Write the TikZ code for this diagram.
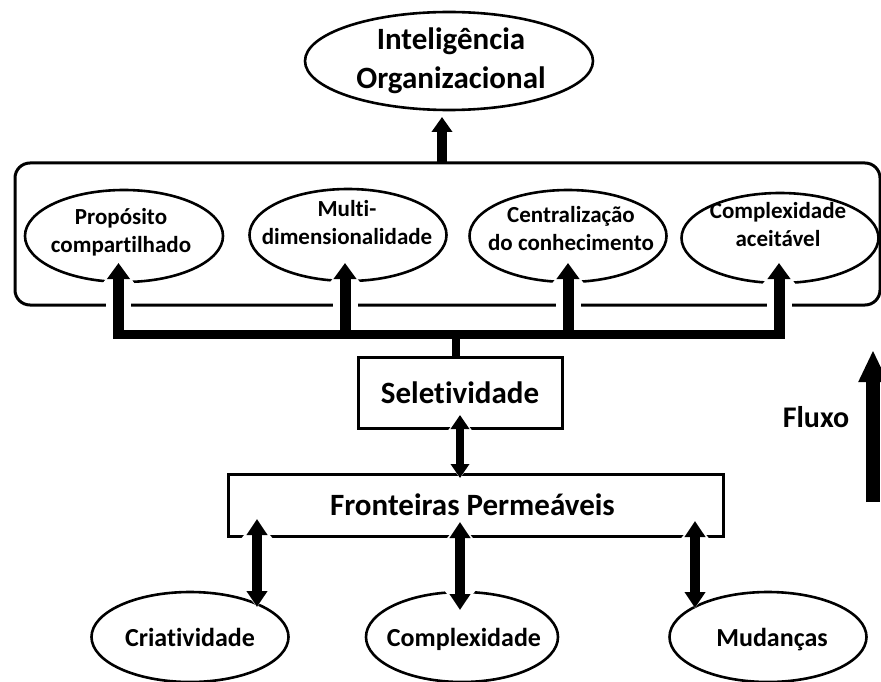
\documentclass[tikz,border=0pt]{standalone}
\usepackage{fontspec}
\setmainfont{Carlito}[Ligatures={NoCommon,NoContextual}]
\usetikzlibrary{arrows.meta,shapes.geometric}
\begin{document}
\begin{tikzpicture}[x=1pt,y=-1pt,
  ell/.style={draw, ellipse, line width=2.6pt, inner sep=0pt},
  rbox/.style={draw, rectangle, line width=3pt, inner sep=0pt},
  bigtxt/.style={font=\bfseries\fontsize{31}{39}\selectfont, align=center, inner sep=0pt},
  midtxt/.style={font=\bfseries\fontsize{26}{31}\selectfont, inner sep=0pt, anchor=base},
  smltxt/.style={font=\bfseries\fontsize{23}{28}\selectfont, align=center, inner sep=0pt},
  uparr/.style={line width=11pt, -{Triangle[width=22pt,length=16pt]},
    preaction={draw=white, line width=25pt, -{Triangle[width=36pt,length=24pt]}}},
  toparr/.style={line width=10pt, -{Triangle[width=20pt,length=15pt]}},
  dblarr/.style={line width=10pt, {Triangle[width=20pt,length=16pt]}-{Triangle[width=20pt,length=16pt]},
    preaction={draw=white, line width=24pt, {Triangle[width=34pt,length=22pt]}-{Triangle[width=34pt,length=22pt]}}},
  thinarr/.style={line width=8pt, {Triangle[width=18pt,length=14pt]}-{Triangle[width=18pt,length=14pt]},
    preaction={draw=white, line width=20pt, {Triangle[width=30pt,length=20pt]}-{Triangle[width=30pt,length=20pt]}}},
  flxarr/.style={line width=14pt, -{Triangle[width=27pt,length=32pt]}},
  busline/.style={line width=9pt, shorten <=-5.5pt, shorten >=-6pt}
]
\useasboundingbox (0,0) rectangle (881,682);

% top ellipse
\node[ell, minimum width=288pt, minimum height=98pt] (io) at (449,61) {};
\node[bigtxt] (iot) at (451,61) {Inteligência\\Organizacional};

% container
\node[draw, rectangle, rounded corners=15pt, line width=3pt, minimum width=865pt, minimum height=142pt, inner sep=0pt] (cont) at (447.5,234) {};

% inner ellipses
\node[ell, minimum width=198pt, minimum height=92pt] (p1) at (124,236) {};
\node[smltxt] (p1t) at (121,232) {Propósito\\compartilhado};
\node[ell, minimum width=197pt, minimum height=92pt] (p2) at (348,235) {};
\node[smltxt] (p2t) at (347,223) {Multi-\\dimensionalidade};
\node[ell, minimum width=197pt, minimum height=92pt] (p3) at (568,236) {};
\node[smltxt] (p3t) at (571,229) {Centralização\\do conhecimento};
\node[ell, minimum width=197pt, minimum height=90pt] (p4) at (780,238) {};
\node[smltxt] (p4t) at (778,225) {Complexidade\\aceitável};

% seletividade and fronteiras
\node[rbox, minimum width=204pt, minimum height=71pt, bigtxt] (sel) at (460,392.5) {Seletividade};
\node[rbox, minimum width=495pt, minimum height=62pt] (fr) at (475.5,505) {};
\node[bigtxt] (frt) at (472.5,505) {Fronteiras Permeáveis};

% bottom ellipses
\node[ell, minimum width=197pt, minimum height=90pt] (cr) at (190,637) {};
\node[midtxt] (crt) at (190,646) {Criatividade};
\node[ell, minimum width=192pt, minimum height=90pt] (co) at (462,637) {};
\node[midtxt] (cot) at (464,646) {Complexidade};
\node[ell, minimum width=197pt, minimum height=90pt] (mu) at (768,637) {};
\node[midtxt] (mut) at (772,646) {Mudanças};

% Fluxo
\node[font=\bfseries\fontsize{30}{36}\selectfont, inner sep=0pt] (fluxo) at (816,417) {Fluxo};

% coordinates
\coordinate (t1) at (118.5,263); \coordinate (b1) at (118.5,334.5);
\coordinate (t2) at (345,263);   \coordinate (b2) at (345,334.5);
\coordinate (t3) at (568,263);   \coordinate (b3) at (568,334.5);
\coordinate (t4) at (779,263);   \coordinate (b4) at (779,334.5);
\coordinate (bs) at (456,334.5);
\coordinate (ioa) at (442,163);  \coordinate (iob) at (442,117);
\coordinate (sf1) at (460,415);  \coordinate (sf2) at (460,478);
\coordinate (f1a) at (257,519);  \coordinate (f1b) at (257,607);
\coordinate (f2a) at (460,522);  \coordinate (f2b) at (460,610);
\coordinate (f3a) at (695,521);  \coordinate (f3b) at (695,608);
\coordinate (fl1) at (873,502);  \coordinate (fl2) at (873,350);

% arrows
\draw[uparr] (b1) -- (t1);
\draw[uparr] (b2) -- (t2);
\draw[uparr] (b3) -- (t3);
\draw[uparr] (b4) -- (t4);
\draw[busline] (b1) -- (b4);
\draw[line width=8pt] (bs) -- (bs |- sel.north);
\draw[toparr] (ioa) -- (iob);
\draw[thinarr] (sf1) -- (sf2);
\draw[dblarr] (f1a) -- (f1b);
\draw[dblarr] (f2a) -- (f2b);
\draw[dblarr] (f3a) -- (f3b);
\draw[flxarr] (fl1) -- (fl2);
\end{tikzpicture}
\end{document}
